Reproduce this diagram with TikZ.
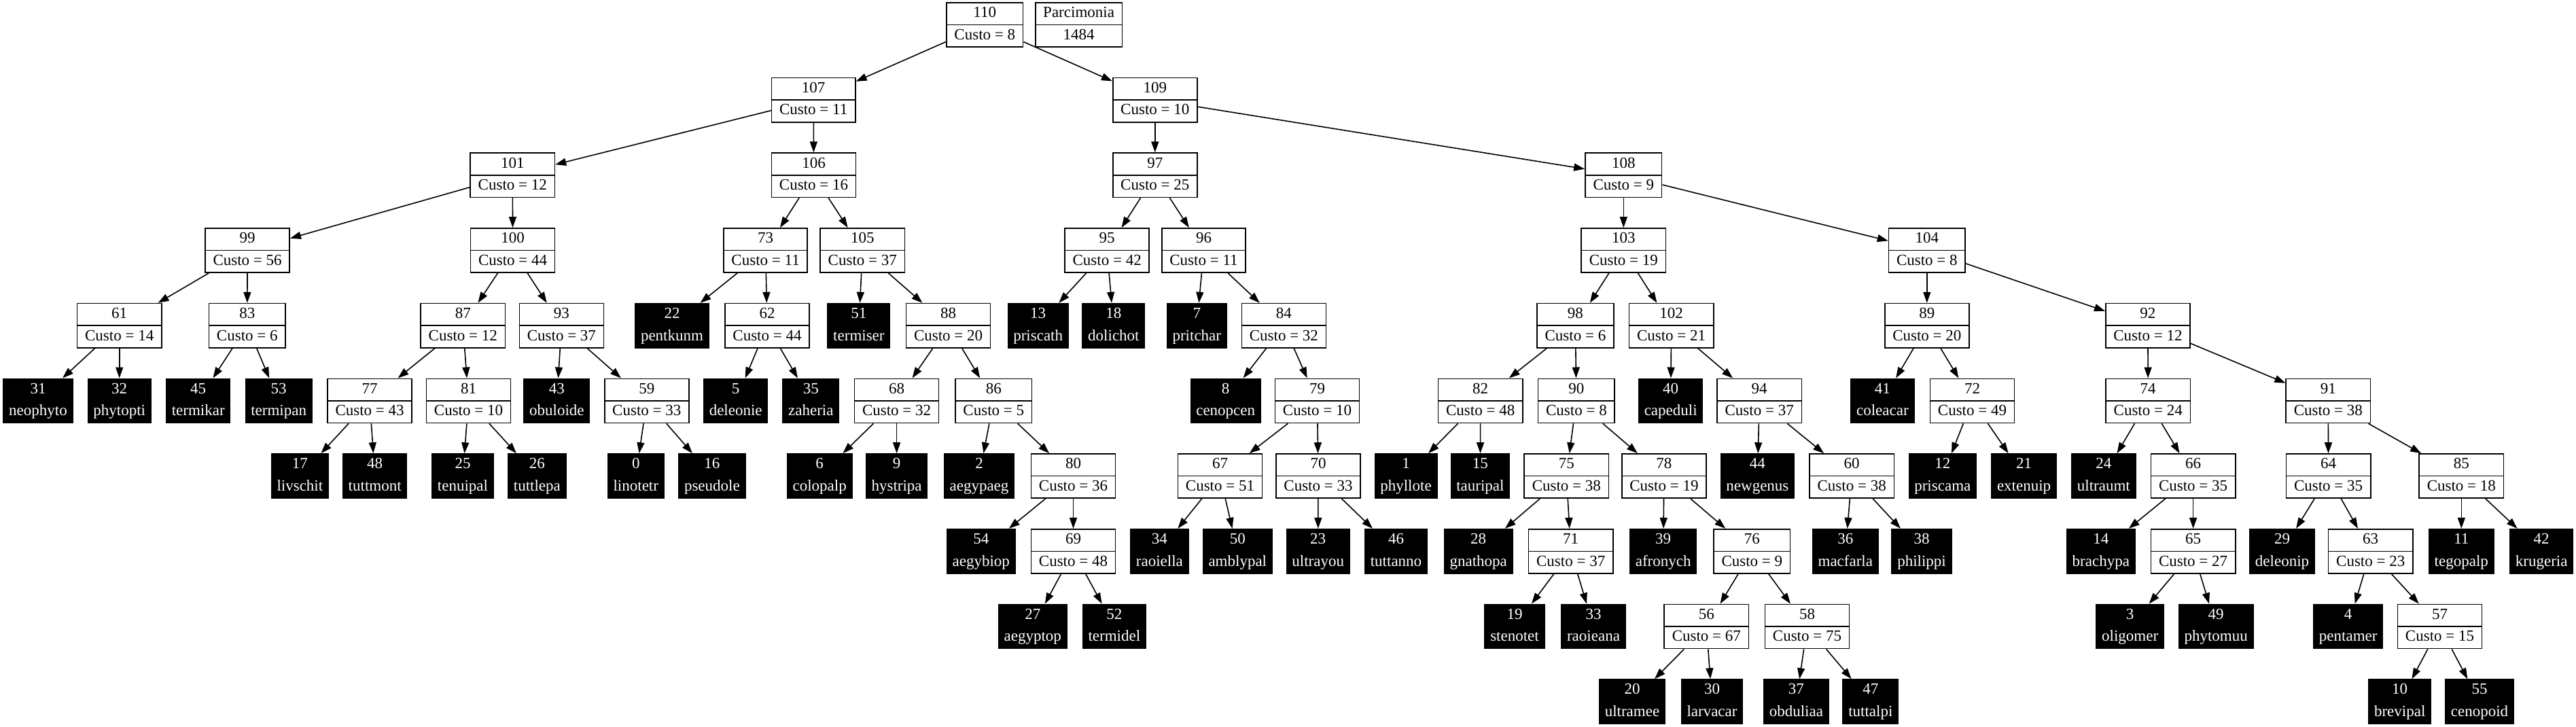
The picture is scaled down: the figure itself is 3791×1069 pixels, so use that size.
\documentclass[tikz,border=0pt]{standalone}
\usepackage{fontspec}
\setmainfont{Liberation Serif}
\usetikzlibrary{shapes.multipart,arrows.meta}
\newcommand{\strutA}{\rule[-6pt]{0pt}{23pt}}
\tikzset{
  inner/.style={rectangle split, rectangle split parts=2, draw=black, fill=white, line width=1.6pt,
    inner xsep=11.5pt, inner ysep=4pt, font=\fontsize{23}{27}\selectfont, text=black},
  leaf/.style={rectangle split, rectangle split parts=2, draw=black, fill=black, line width=1.6pt,
    inner xsep=8pt, inner ysep=4pt, font=\fontsize{23}{27}\selectfont, text=white},
  edge/.style={line width=1.6pt, -{Triangle[length=16pt,width=11pt]}}
}
\newcommand{\mkint}[4]{\node[inner] (n#1) at ({#2},{36.4+110.7*#3}) {\strutA #1\nodepart{two}\strutA Custo = #4};}
\newcommand{\mkleaf}[4]{\node[leaf] (n#1) at ({#2},{36.4+110.7*#3}) {\strutA #1\nodepart{two}\strutA #4};}
\begin{document}
\begin{tikzpicture}[x=1pt,y=-1pt]
\useasboundingbox[fill=white] (0,0) rectangle (3791,1069);
% level 0
\mkint{110}{1449.3}{0}{8}
\node[inner] (parc) at (1587.6,36.4) {\strutA Parcimonia\nodepart{two}\strutA 1484};
% level 1
\mkint{107}{1197.2}{1}{11}
\mkint{109}{1699.8}{1}{10}
% level 2
\mkint{101}{754.3}{2}{12}
\mkint{106}{1197.5}{2}{16}
\mkint{97}{1699.8}{2}{25}
\mkint{108}{2389.3}{2}{9}
% level 3
\mkint{99}{364.1}{3}{56}
\mkint{100}{754.6}{3}{44}
\mkint{73}{1126.6}{3}{11}
\mkint{105}{1269.3}{3}{37}
\mkint{95}{1629.2}{3}{42}
\mkint{96}{1771.5}{3}{11}
\mkint{103}{2389.3}{3}{19}
\mkint{104}{2835.8}{3}{8}
% level 4
\mkint{61}{175.7}{4}{14}
\mkint{83}{363.8}{4}{6}
\mkint{87}{681.3}{4}{12}
\mkint{93}{826.4}{4}{37}
\mkleaf{22}{989}{4}{pentkunm}
\mkint{62}{1129}{4}{44}
\mkleaf{51}{1263.9}{4}{termiser}
\mkint{88}{1395.6}{4}{20}
\mkleaf{13}{1527.7}{4}{priscath}
\mkleaf{18}{1638.9}{4}{dolichot}
\mkleaf{7}{1761.3}{4}{pritchar}
\mkint{84}{1889.4}{4}{32}
\mkint{98}{2318.4}{4}{6}
\mkint{102}{2459.6}{4}{21}
\mkint{89}{2835.8}{4}{20}
\mkint{92}{3160.9}{4}{12}
% level 5
\mkleaf{31}{56}{5}{neophyto}
\mkleaf{32}{175.7}{5}{phytopti}
\mkleaf{45}{291.7}{5}{termikar}
\mkleaf{53}{410.2}{5}{termipan}
\mkint{77}{544.1}{5}{43}
\mkint{81}{689.5}{5}{10}
\mkleaf{43}{819.4}{5}{obuloide}
\mkint{59}{951.8}{5}{33}
\mkleaf{5}{1082.7}{5}{deleonie}
\mkleaf{35}{1193.3}{5}{zaheria}
\mkint{68}{1319.6}{5}{32}
\mkint{86}{1462.3}{5}{5}
\mkleaf{8}{1803.7}{5}{cenopcen}
\mkint{79}{1938.5}{5}{10}
\mkint{82}{2178.7}{5}{48}
\mkint{90}{2319.9}{5}{8}
\mkleaf{40}{2458.7}{5}{capeduli}
\mkint{94}{2589.2}{5}{37}
\mkleaf{41}{2770.4}{5}{coleacar}
\mkint{72}{2902.5}{5}{49}
\mkint{74}{3161.2}{5}{24}
\mkint{91}{3426.3}{5}{38}
% level 6
\mkleaf{17}{441.4}{6}{livschit}
\mkleaf{48}{551.7}{6}{tuttmont}
\mkleaf{25}{681}{6}{tenuipal}
\mkleaf{26}{790.4}{6}{tuttlepa}
\mkleaf{0}{935.8}{6}{linotetr}
\mkleaf{16}{1047.9}{6}{pseudole}
\mkleaf{6}{1206.2}{6}{colopalp}
\mkleaf{9}{1319.6}{6}{hystripa}
\mkleaf{2}{1441}{6}{aegypaeg}
\mkint{80}{1579.5}{6}{36}
\mkint{67}{1795.5}{6}{51}
\mkint{70}{1940}{6}{33}
\mkleaf{1}{2069}{6}{phyllote}
\mkleaf{15}{2178.4}{6}{tauripal}
\mkint{75}{2305.3}{6}{38}
\mkint{78}{2448.9}{6}{19}
\mkleaf{44}{2586.4}{6}{newgenus}
\mkint{60}{2725.2}{6}{38}
\mkleaf{12}{2858.8}{6}{priscama}
\mkleaf{21}{2978.6}{6}{extenuip}
\mkleaf{24}{3095.8}{6}{ultraumt}
\mkint{66}{3227.6}{6}{35}
\mkint{64}{3426.6}{6}{35}
\mkint{85}{3622.3}{6}{18}
% level 7
\mkleaf{54}{1443.8}{7}{aegybiop}
\mkint{69}{1579.5}{7}{48}
\mkleaf{34}{1706.4}{7}{raoiella}
\mkleaf{50}{1821.3}{7}{amblypal}
\mkleaf{23}{1939.7}{7}{ultrayou}
\mkleaf{46}{2054.5}{7}{tuttanno}
\mkleaf{28}{2175.7}{7}{gnathopa}
\mkint{71}{2311.7}{7}{37}
\mkleaf{39}{2447.7}{7}{afronych}
\mkint{76}{2578.3}{7}{9}
\mkleaf{36}{2715.8}{7}{macfarla}
\mkleaf{38}{2828}{7}{philippi}
\mkleaf{14}{3091.8}{7}{brachypa}
\mkint{65}{3227.6}{7}{27}
\mkleaf{29}{3358.5}{7}{deleonip}
\mkint{63}{3488.7}{7}{23}
\mkleaf{11}{3622.3}{7}{tegopalp}
\mkleaf{42}{3740.2}{7}{krugeria}
% level 8
\mkleaf{27}{1519.8}{8}{aegyptop}
\mkleaf{52}{1639.8}{8}{termidel}
\mkleaf{19}{2229}{8}{stenotet}
\mkleaf{33}{2345}{8}{raoieana}
\mkint{56}{2511.3}{8}{67}
\mkint{58}{2659.5}{8}{75}
\mkleaf{3}{3134.6}{8}{oligomer}
\mkleaf{49}{3261.2}{8}{phytomuu}
\mkleaf{4}{3455.7}{8}{pentamer}
\mkint{57}{3590.5}{8}{15}
% level 9
\mkleaf{20}{2402}{9}{ultramee}
\mkleaf{30}{2519.5}{9}{larvacar}
\mkleaf{37}{2643.4}{9}{obduliaa}
\mkleaf{47}{2752.8}{9}{tuttalpi}
\mkleaf{10}{3531.7}{9}{brevipal}
\mkleaf{55}{3649}{9}{cenopoid}
% edges
\foreach \a/\b in {110/107,110/109,107/101,107/106,109/97,109/108,
  101/99,101/100,106/73,106/105,97/95,97/96,108/103,108/104,
  99/61,99/83,100/87,100/93,73/22,73/62,105/51,105/88,95/13,95/18,96/7,96/84,103/98,103/102,104/89,104/92,
  61/31,61/32,83/45,83/53,87/77,87/81,93/43,93/59,62/5,62/35,88/68,88/86,84/8,84/79,98/82,98/90,102/40,102/94,89/41,89/72,92/74,92/91,
  77/17,77/48,81/25,81/26,59/0,59/16,68/6,68/9,86/2,86/80,79/67,79/70,82/1,82/15,90/75,90/78,94/44,94/60,72/12,72/21,74/24,74/66,91/64,91/85,
  80/54,80/69,67/34,67/50,70/23,70/46,75/28,75/71,78/39,78/76,60/36,60/38,66/14,66/65,64/29,64/63,85/11,85/42,
  69/27,69/52,71/19,71/33,76/56,76/58,65/3,65/49,63/4,63/57,
  56/20,56/30,58/37,58/47,57/10,57/55}
  \draw[edge] (n\a) -- (n\b);
\end{tikzpicture}
\end{document}
